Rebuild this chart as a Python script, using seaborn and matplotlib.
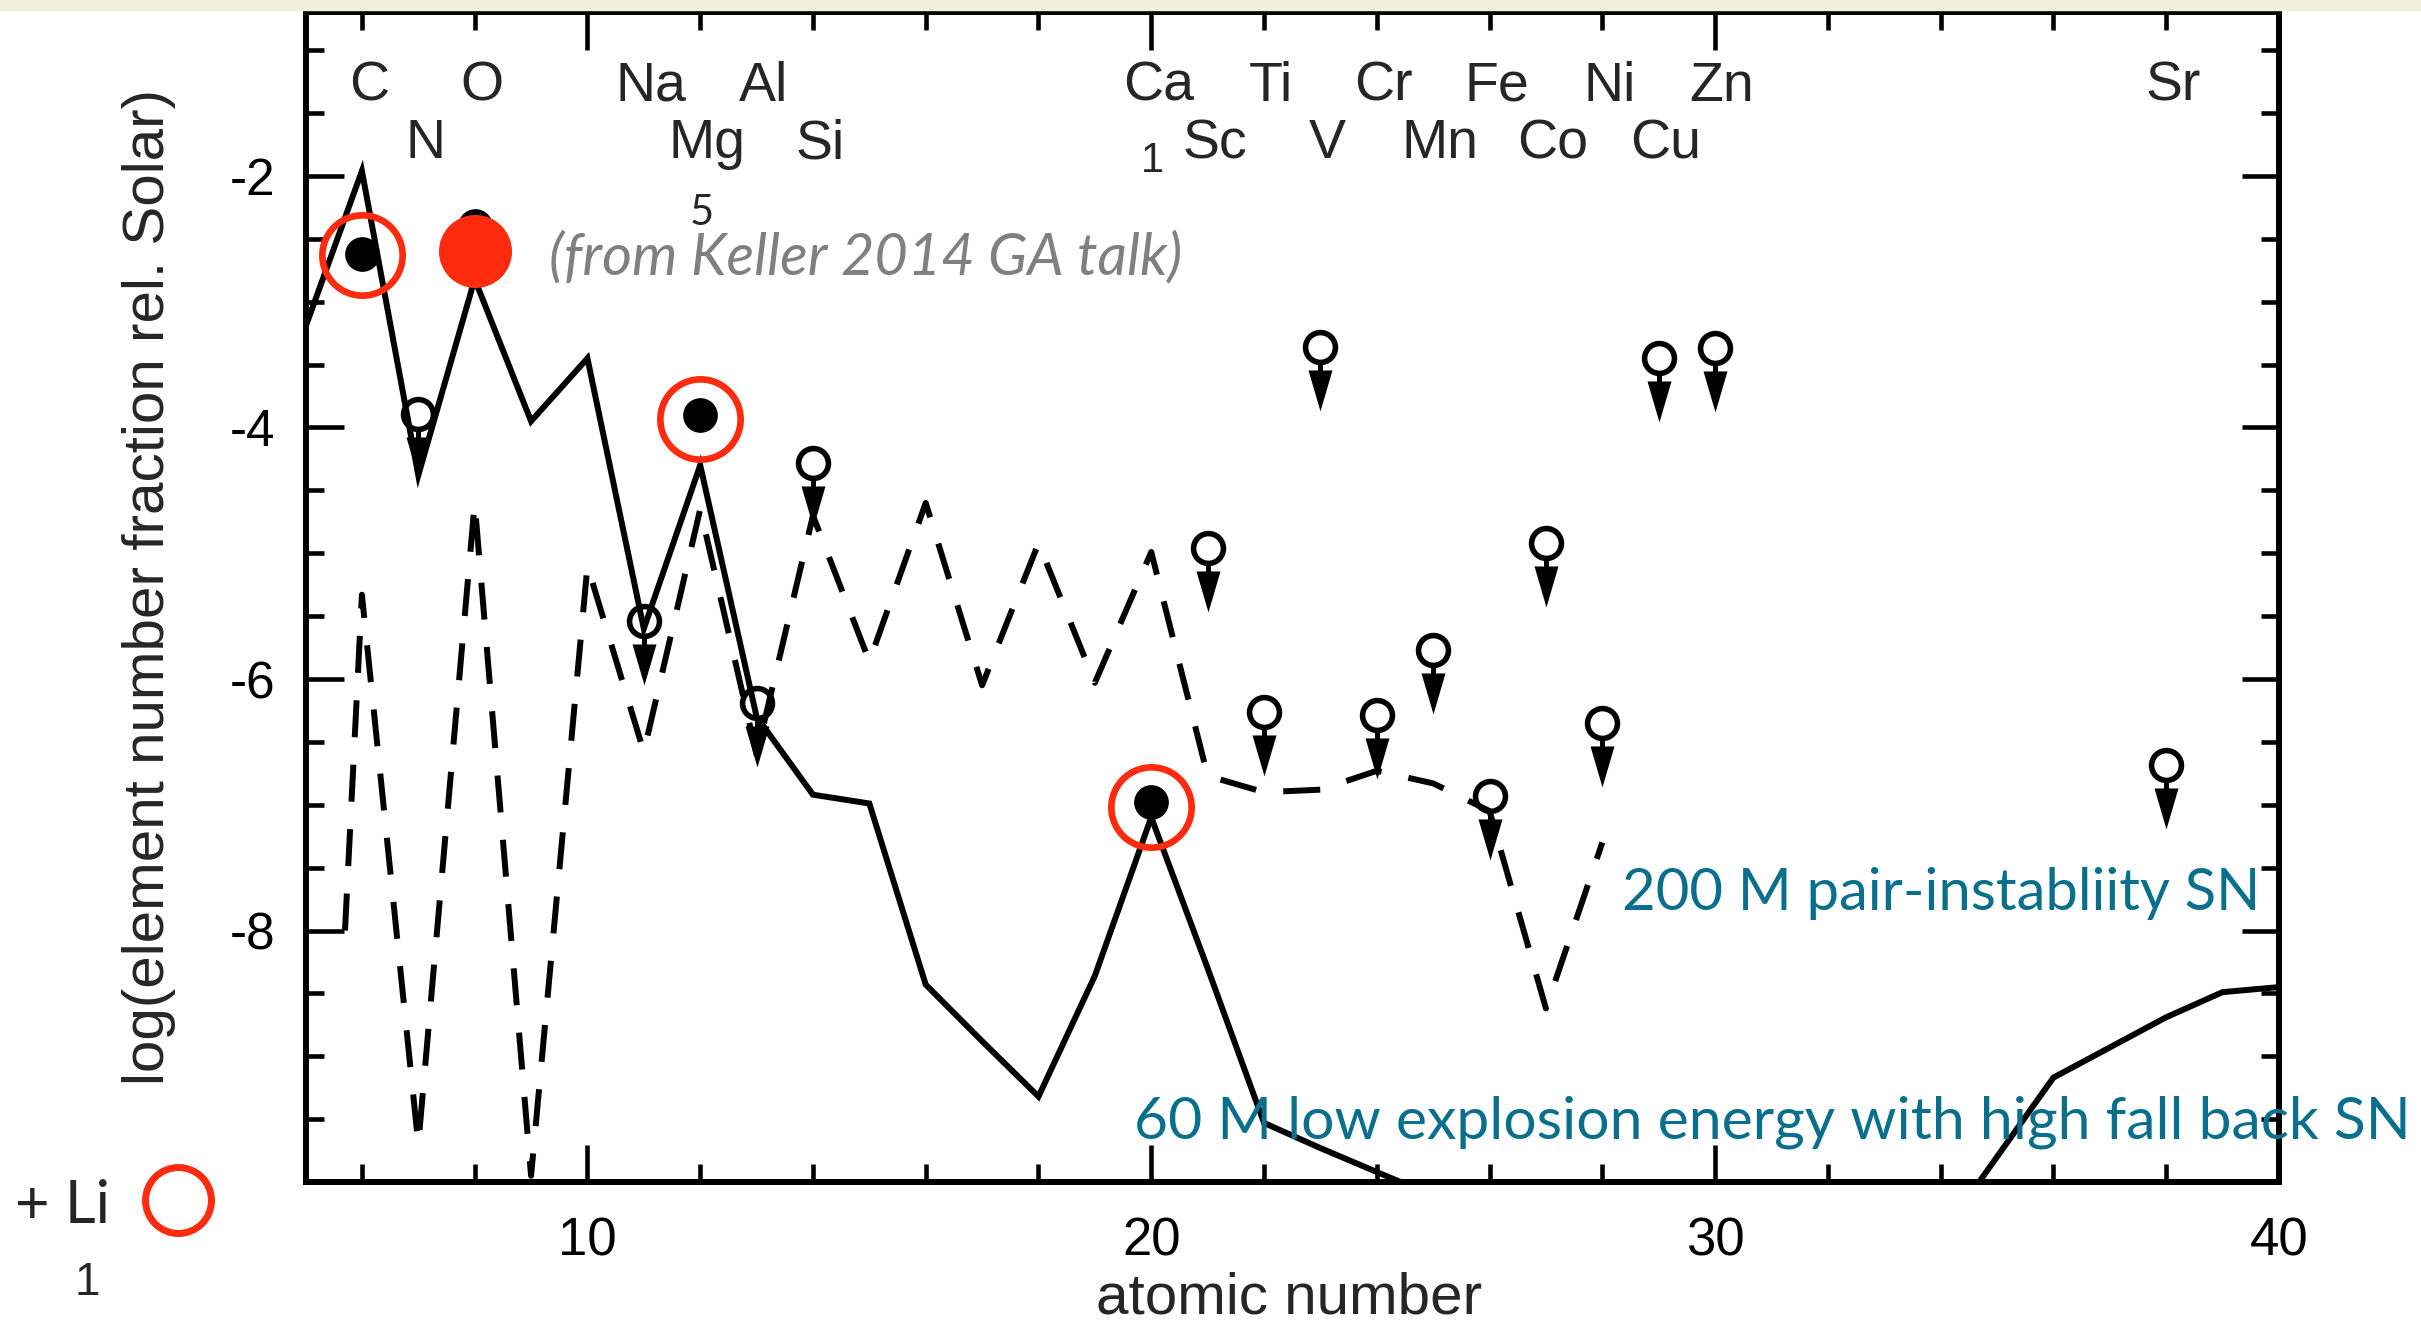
import numpy as np
import pandas as pd
import matplotlib
matplotlib.use("Agg")
import matplotlib.pyplot as plt
import matplotlib.transforms as mtransforms
from matplotlib.lines import Line2D
from matplotlib.patches import Rectangle
from matplotlib.ticker import FixedLocator
import seaborn as sns

nan = np.nan

# ---------------- data ----------------
atomic_number = list(range(5, 41))
# 60 Msun low explosion energy, high fall-back SN (solid line); NaN = far below the plot
fallback_60 = [-3.2, -1.96, -4.38, -2.82, -3.95, -3.45, -5.6, -4.3, -6.3, -6.92,
               -6.99, -8.43, -8.88, -9.32, -8.36, -7.1, -8.3, -9.53, -9.73, -9.92,
               -10.11, nan, nan, nan, nan, nan, nan, nan, nan, -10.43,
               -9.8, -9.17, -8.93, -8.69, -8.49, -8.45]
# 200 Msun pair-instability SN (dashed line)
pisn_z = [5.7, 6, 7, 8, 9, 10, 11, 12, 13, 14, 15, 16, 17, 18, 19, 20, 21, 22, 23,
          24, 25, 26, 27, 28]
pisn_200 = [-8.0, -5.33, -9.7, -4.6, -9.95, -5.1, -6.58, -4.65, -6.6, -4.7, -5.86,
            -4.6, -6.05, -4.92, -6.03, -4.99, -6.77, -6.9, -6.88, -6.73, -6.83,
            -7.05, -8.62, -7.3]
# detections (filled dots)
detect_z = [6, 8, 12, 20]
detect_val = [-2.62, -2.4, -3.9, -6.98]
# upper limits (open circle + arrow)
limit_z = [7, 11, 13, 14, 21, 22, 23, 24, 25, 26, 27, 28, 29, 30, 38]
limit_val = [-3.89, -5.54, -6.19, -4.28, -4.96, -6.26, -3.36, -6.29, -5.77, -6.93,
             -4.92, -6.35, -3.45, -3.37, -6.68]
# red highlight rings and red dot
ring_z = [6, 12, 20]
ring_val = [-2.63, -3.93, -7.02]
reddot_z = [8]
reddot_val = [-2.6]
# element labels
row1_symbols = ["C", "O", "Na", "Al", "Ca", "Ti", "Cr", "Fe", "Ni", "Zn", "Sr"]
row1_z = [6, 8, 11, 13, 20, 22, 24, 26, 28, 30, 38]
row2_symbols = ["N", "Mg", "Si", "Sc", "V", "Mn", "Co", "Cu"]
row2_z = [7, 12, 14, 21, 23, 25, 27, 29]
x_major = [10, 20, 30, 40]
x_minor = list(range(6, 40, 2))
y_major = [-8, -6, -4, -2]
y_minor = [-9.5, -9, -8.5, -7.5, -7, -6.5, -5.5, -5, -4.5, -3.5, -3, -2.5, -1.5, -1]

# ---------------- style ----------------
sns.set_style("ticks")
plt.rcParams["font.family"] = ["Liberation Sans", "DejaVu Sans"]
plt.rcParams["axes.unicode_minus"] = False

RED = "#FF2B0E"
TEAL = "#0A6F8C"
GRAY = "#808080"
SLIDE_FONT = ["Lato", "DejaVu Sans"]

fig = plt.figure(figsize=(24.21, 13.25), dpi=100)
fig.patch.set_facecolor("white")
fig.patches.append(Rectangle((0, 1 - 9.5 / 1325), 1, 9.5 / 1325,
                             transform=fig.transFigure, color="#F3F1DC", zorder=0))
ax = fig.add_axes([0.1262, 0.1079, 0.9413 - 0.1262, 0.99057 - 0.1079])
ax.set_facecolor("white")

df60 = pd.DataFrame({"Z": atomic_number, "abund": fallback_60})
df200 = pd.DataFrame({"Z": pisn_z, "abund": pisn_200})

sns.lineplot(data=df60, x="Z", y="abund", ax=ax, color="black", linewidth=4.3,
             estimator=None, sort=False)
line60 = ax.lines[-1]
line60.set_solid_joinstyle("miter")
line60.set_zorder(2)

sns.lineplot(data=df200, x="Z", y="abund", ax=ax, color="black", linewidth=4.3,
             estimator=None, sort=False)
line200 = ax.lines[-1]
line200.set_linestyle((0, (6.2, 4.6)))
line200.set_dash_capstyle("butt")
line200.set_zorder(2)

# upper limits
arrow_verts = np.array([(-2.5, -15), (2.5, -15), (2.5, -23), (12, -23), (0, -64),
                        (-12, -23), (-2.5, -23)])
ax.plot(limit_z, limit_val, ls="none", marker="o", ms=21.5, mfc="none", mec="black",
        mew=4.0, zorder=4)
ax.plot(limit_z, limit_val, ls="none", marker=arrow_verts, ms=92, mfc="black",
        mec="black", mew=0, zorder=4)

# detections
sns.scatterplot(x=detect_z, y=detect_val, ax=ax, s=25 ** 2, color="black",
                edgecolor="black", linewidth=0, zorder=5, legend=False)

# red highlights
ax.plot(ring_z, ring_val, ls="none", marker="o", ms=57.8, mfc="none", mec=RED,
        mew=4.8, zorder=6)
ax.plot(reddot_z, reddot_val, ls="none", marker="o", ms=52.6, mfc=RED, mec="none",
        zorder=6)

# axes
ax.set_xlim(5, 40)
ax.set_ylim(-10, -0.7)
ax.set_xlabel("")
ax.set_ylabel("")
ax.xaxis.set_major_locator(FixedLocator(x_major))
ax.xaxis.set_minor_locator(FixedLocator(x_minor))
ax.yaxis.set_major_locator(FixedLocator(y_major))
ax.yaxis.set_minor_locator(FixedLocator(y_minor))
ax.set_xticklabels([str(v) for v in x_major])
ax.set_yticklabels([str(v) for v in y_major])
ax.tick_params(which="both", direction="in", top=True, right=True, color="black",
               width=3.3, labelcolor="black")
ax.tick_params(which="major", length=27)
ax.tick_params(which="minor", length=13)
ax.tick_params(axis="x", which="major", pad=25, labelsize=38)
ax.tick_params(axis="y", which="major", pad=22, labelsize=37)
for sp in ax.spines.values():
    sp.set_linewidth(4.3)
    sp.set_color("black")
    sp.set_visible(True)

ax.text(-0.0793, 0.509, "log(element number fraction rel. Solar)", transform=ax.transAxes,
        rotation=90, ha="center", va="center", fontsize=42)
ax.text(0.4984, -0.1125, "atomic number", transform=ax.transAxes,
        ha="center", va="baseline", fontsize=42, clip_on=False)

# element labels
lab_tr = mtransforms.offset_copy(ax.transData, fig=fig, x=5, y=0, units="points")
for s, z in zip(row1_symbols, row1_z):
    ax.text(z, -1.40, s, transform=lab_tr, ha="center", va="baseline", fontsize=40)
for s, z in zip(row2_symbols, row2_z):
    ax.text(z, -1.86, s, transform=lab_tr, ha="center", va="baseline", fontsize=40)

# slide annotations
fig.text(1152 / 2421, 1 - 172 / 1325, "1", ha="center", va="baseline", fontsize=30)
fig.text(702 / 2421, 1 - 225 / 1325, "5", ha="center", va="baseline", fontsize=30,
         family=SLIDE_FONT)
fig.text(549 / 2421, 1 - 274.5 / 1325, "(from Keller 2014 GA talk)", ha="left",
         va="baseline", fontsize=41.5, color=GRAY, style="italic", family=SLIDE_FONT)
fig.text(1622 / 2421, 1 - 910 / 1325, "200 M pair-instabliity SN", ha="left",
         va="baseline", fontsize=41.8, color=TEAL, family=SLIDE_FONT, zorder=10)
fig.text(1134 / 2421, 1 - 1138.6 / 1325, "60 M low explosion energy with high fall back SN",
         ha="left", va="baseline", fontsize=42.4, color=TEAL, family=SLIDE_FONT, zorder=10)
fig.text(15 / 2421, 1 - 1223 / 1325, "+ Li", ha="left", va="baseline", fontsize=43,
         family=SLIDE_FONT)
fig.text(87.5 / 2421, 1 - 1295 / 1325, "1", ha="center", va="baseline", fontsize=33)
fig.add_artist(Line2D([178.3 / 2421], [1 - 1200 / 1325], transform=fig.transFigure,
                      marker="o", ms=47.5, mfc="none", mec=RED, mew=5, ls="none"))

fig.savefig("out.png", dpi=100)
